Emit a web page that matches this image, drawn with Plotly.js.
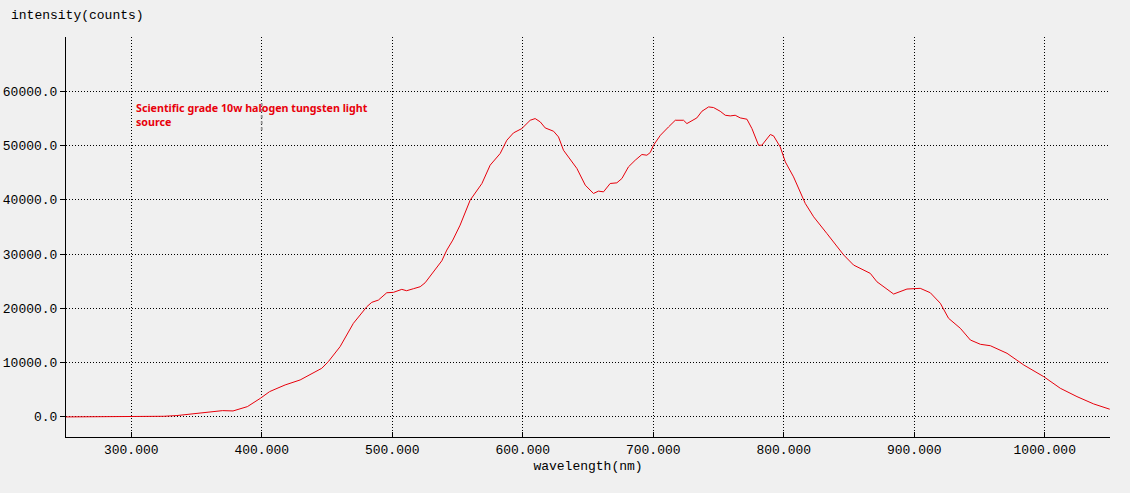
<!DOCTYPE html>
<html>
<head>
<meta charset="utf-8">
<script src="https://cdn.plot.ly/plotly-3.0.1.min.js"></script>
<style>html,body{margin:0;padding:0;background:#f0f0f0;}</style>
</head>
<body>
<div id="chart" style="width:1130px;height:493px;"></div>
<script>
const wavelength = [250, 280, 300, 314, 325, 335, 345, 360, 370, 378, 389, 399, 406, 410.2, 417.9, 429.4, 437, 446, 451, 460, 470.2, 480.5, 484.3, 489.4, 495.8, 500.9, 507.3, 511, 516.2, 521.4, 525.2, 531.6, 538, 541.8, 546.4, 552, 559.7, 568.7, 575, 582.7, 587.8, 592.9, 599.3, 605.7, 609.5, 613.4, 617.2, 623.6, 627.4, 631.2, 637.7, 641.5, 647.9, 654.2, 658, 661.9, 667, 672.1, 676, 681, 686.2, 691.3, 695.1, 697.7, 700.2, 705.5, 711.7, 716.9, 723.2, 725.8, 733.4, 737.3, 742.4, 746.2, 751.3, 755.2, 759, 762.8, 766.7, 771.8, 775.6, 778.2, 780.7, 783.2, 789.7, 792.2, 797.3, 801.2, 807.5, 816.5, 822.9, 833, 846, 853.5, 866.3, 871.4, 884.2, 894.4, 904.6, 912.3, 920, 926.3, 935.3, 943, 950.7, 958.3, 971.1, 983.9, 999.2, 1011.9, 1024.7, 1037.5, 1049.8];
const intensity = [0, 0, 0, 20, 120, 250, 500, 980, 1160, 1100, 1900, 3440, 4660, 5100, 5890, 6810, 7730, 8960, 10180, 12940, 17240, 20300, 21110, 21530, 22880, 22950, 23500, 23250, 23620, 23990, 24720, 26750, 28770, 30740, 32580, 35340, 39940, 43000, 46380, 48530, 50980, 52330, 53130, 54660, 54970, 54360, 53250, 52640, 51590, 49140, 46990, 45770, 42700, 41170, 41600, 41470, 43010, 43130, 43930, 46070, 47300, 48350, 48220, 48720, 50060, 51900, 53430, 54660, 54660, 54050, 55090, 56320, 57120, 57000, 56320, 55580, 55460, 55580, 55090, 54850, 53130, 51590, 50060, 50060, 52030, 51780, 49750, 46990, 44230, 39330, 36870, 33810, 29820, 27980, 26450, 24900, 22640, 23560, 23690, 22880, 20930, 18170, 16330, 14170, 13380, 13120, 11720, 9570, 7420, 5280, 3740, 2390, 1420];
const xTicks = [300, 400, 500, 600, 700, 800, 900, 1000];
const xTickLabels = ["300.000", "400.000", "500.000", "600.000", "700.000", "800.000", "900.000", "1000.000"];
const yTicks = [0, 10000, 20000, 30000, 40000, 50000, 60000];
const yTickLabels = ["0.0", "10000.0", "20000.0", "30000.0", "40000.0", "50000.0", "60000.0"];
const noteText = "Scientific grade 10w halogen tungsten light<br>source";

const mono = "Liberation Mono, DejaVu Sans Mono, monospace";
const trace = {
  x: wavelength, y: intensity, type: 'scatter', mode: 'lines',
  line: {color: '#e8000b', width: 1}, hoverinfo: 'skip'
};
const layout = {
  width: 1130, height: 493,
  margin: {l: 66, r: 20, t: 37, b: 56},
  paper_bgcolor: '#f0f0f0', plot_bgcolor: '#f0f0f0',
  showlegend: false,
  xaxis: {
    range: [250, 1050], tickvals: xTicks, ticktext: xTickLabels,
    showgrid: true, gridcolor: '#000000', gridwidth: 1, griddash: '1px,2px',
    zeroline: false, showline: true, linecolor: '#000000', linewidth: 1,
    ticks: 'inside', ticklen: 5, tickcolor: '#000000',
    tickfont: {family: mono, size: 13, color: '#000000'},
    title: {text: 'wavelength(nm)', font: {family: mono, size: 13, color: '#000000'}, standoff: 4}
  },
  yaxis: {
    range: [-3700, 70000], tickvals: yTicks, ticktext: yTickLabels,
    showgrid: true, gridcolor: '#000000', gridwidth: 1, griddash: '1px,2px',
    zeroline: false, showline: true, linecolor: '#000000', linewidth: 1,
    ticks: 'outside', ticklen: 5, tickcolor: '#000000',
    tickfont: {family: mono, size: 13, color: '#000000'}
  },
  annotations: [
    {text: 'intensity(counts)', xref: 'paper', yref: 'paper', x: -0.0545, y: 1.055,
     xanchor: 'left', yanchor: 'middle', showarrow: false,
     font: {family: mono, size: 13, color: '#000000'}},
    {text: noteText, xref: 'x', yref: 'y', x: 302, y: 58600, xanchor: 'left', yanchor: 'top',
     align: 'left', showarrow: false,
     font: {family: 'Noto Sans, sans-serif', size: 10.7, color: '#e8000b', weight: 'bold'}}
  ],
  shapes: [
    {type: 'line', xref: 'x', yref: 'y', x0: 400, x1: 400, y0: 52800, y1: 58300,
     line: {color: '#a0a0a0', width: 2, dash: 'dot'}}
  ]
};
Plotly.newPlot('chart', [trace], layout, {staticPlot: true, displayModeBar: false});
</script>
</body>
</html>
